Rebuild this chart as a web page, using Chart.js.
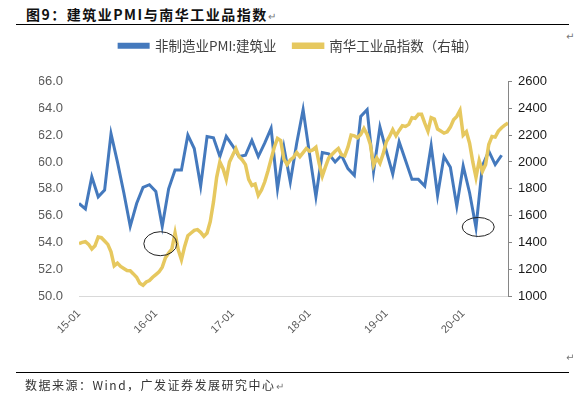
<!DOCTYPE html>
<html>
<head>
<meta charset="utf-8">
<script src="https://cdn.jsdelivr.net/npm/chart.js@4.4.1/dist/chart.umd.min.js"></script>
<style>
  body { margin: 0; width: 585px; height: 395px; background: #fff; position: relative; overflow: hidden; }
  #c { position: absolute; left: 0; top: 0; }
  .title { position: absolute; left: 26px; top: 4px; line-height: 18px; font: bold 14px "Noto Sans CJK SC"; letter-spacing: 1.5px; color: #111; white-space: nowrap; }
  .rule { position: absolute; left: 16px; width: 553px; border-top: 1.5px solid #000; }
  .src { position: absolute; left: 25px; top: 376px; line-height: 16px; font: 12px "Noto Sans CJK SC"; letter-spacing: 1.5px; color: #333; white-space: nowrap; }
  .ret { font-weight: normal; font-size: 10px; color: #777; letter-spacing: 0; }
  .edge { position: absolute; left: 566px; font: 10px "DejaVu Sans"; color: #777; }
</style>
</head>
<body>
<div class="title">图9：建筑业PMI与南华工业品指数<span class="ret">↵</span></div>
<div class="rule" style="top:24px"></div>
<div class="edge" style="top:31px">↵</div>
<canvas id="c" width="585" height="395"></canvas>
<div class="edge" style="top:352px">↵</div>
<div class="rule" style="top:372px"></div>
<div class="src">数据来源：Wind，广发证券发展研究中心<span class="ret">↵</span></div>
<script>
// months counted from 2015-01
const tickLabels = ['15-01', '16-01', '17-01', '18-01', '19-01', '20-01'];

// 非制造业PMI:建筑业, monthly 2015-01 .. 2020-07
const pmiBuild = [
  56.9, 56.5, 58.9, 57.4, 57.9, 62.1, 60.0, 57.7, 55.2, 56.9, 58.1, 58.3,
  57.8, 55.2, 58.0, 59.4, 59.4, 62.0, 61.0, 58.2, 61.9, 61.8, 60.4, 61.9,
  61.2, 60.4, 60.5, 61.6, 60.4, 61.4, 62.5, 58.0, 61.1, 58.5, 61.4, 63.9,
  60.6, 57.4, 60.7, 60.6, 60.0, 60.5, 59.5, 59.0, 63.4, 63.9, 59.3, 62.6,
  60.8, 59.1, 61.5, 60.1, 58.7, 58.7, 58.2, 61.2, 57.5, 60.4, 59.6, 56.7,
  59.7, 57.7, 55.1, 59.7, 60.8, 59.8, 60.5
];

// 南华工业品指数, read every half month
const nanhua = [
  1390, 1400, 1405, 1385, 1350, 1375, 1440, 1435, 1410, 1385,
  1330, 1225, 1245, 1220, 1205, 1190, 1188, 1165, 1140, 1095,
  1080, 1105, 1115, 1140, 1160, 1180, 1215, 1285, 1320, 1350,
  1470, 1345, 1270, 1370, 1450, 1470, 1490, 1495, 1475, 1445,
  1470, 1555, 1700, 1885, 2000, 1950, 1870, 2000, 2050, 2100,
  2040, 2015, 1980, 1870, 1825, 1835, 1750, 1790, 1850, 1930,
  2020, 2110, 2175, 2160, 2020, 1980, 2015, 2035, 2070, 2040,
  2070, 2100, 2080, 2090, 2110, 1990, 1895, 1965, 2030, 2055,
  2080, 2100, 2053, 2045, 2110, 2200, 2195, 2180, 2205, 2250,
  2205, 2130, 1975, 2030, 1990, 2060, 2150, 2190, 2240, 2195,
  2235, 2270, 2265, 2280, 2330, 2325, 2355, 2355, 2290, 2230,
  2330, 2320, 2245, 2230, 2215, 2225, 2260, 2315, 2340, 2385,
  2200, 2225, 2140, 2000, 1885, 2010, 1930, 1980, 2130, 2190,
  2185, 2230, 2255, 2275, 2290
];

const BLUE = '#4479BD';
const GOLD = '#E6C85F';

// the two hand-drawn ellipses (month, left-axis value)
const circleNotes = [
  { month: 12.7, pmi: 53.9, rx: 16.5, ry: 12 },
  { month: 62.35, pmi: 55.15, rx: 16, ry: 9.5 }
];

const legendGap = {
  id: 'legendGap',
  beforeInit(chart) {
    const fit = chart.legend.fit;
    chart.legend.fit = function () {
      fit.bind(chart.legend)();
      this.height += 19;
    };
  }
};

const ellipses = {
  id: 'ellipses',
  afterDatasetsDraw(chart) {
    const { ctx, scales } = chart;
    ctx.save();
    ctx.strokeStyle = '#222';
    ctx.lineWidth = 1;
    circleNotes.forEach(c => {
      ctx.beginPath();
      ctx.ellipse(scales.x.getPixelForValue(c.month), scales.y.getPixelForValue(c.pmi), c.rx, c.ry, 0, 0, Math.PI * 2);
      ctx.stroke();
    });
    ctx.restore();
  }
};

const tickFont = { family: '"Liberation Sans", Arial', size: 13 };

new Chart('c', {
  type: 'line',
  data: {
    datasets: [{
      label: '非制造业PMI:建筑业',
      data: pmiBuild.map((v, i) => ({ x: i, y: v })),
      borderColor: BLUE,
      backgroundColor: BLUE,
      borderWidth: 3,
      pointRadius: 0,
      yAxisID: 'y',
      order: 1
    }, {
      label: '南华工业品指数（右轴）',
      data: nanhua.map((v, i) => ({ x: i / 2, y: v })),
      borderColor: GOLD,
      backgroundColor: GOLD,
      borderWidth: 3.5,
      pointRadius: 0,
      yAxisID: 'y1',
      order: 0
    }]
  },
  options: {
    responsive: false,
    animation: false,
    devicePixelRatio: 1,
    layout: { padding: { top: 22, left: 39, right: 27, bottom: 49 } },
    plugins: {
      tooltip: { enabled: false },
      legend: {
        display: true,
        labels: {
          boxWidth: 29,
          boxHeight: 3,
          padding: 17,
          color: '#404040',
          font: { family: '"Noto Sans CJK SC"', size: 13.5 },
          sort: (a, b) => a.datasetIndex - b.datasetIndex
        }
      }
    },
    scales: {
      x: {
        type: 'linear',
        min: 0,
        max: 67,
        grid: { display: false, drawTicks: false },
        border: { display: true, color: '#D9D9D9', width: 1 },
        afterBuildTicks: s => { s.ticks = tickLabels.map((_, i) => ({ value: i * 12 })); },
        afterFit: s => { s.height = 50; },
        ticks: {
          minRotation: 45,
          maxRotation: 45,
          padding: 11,
          color: '#595959',
          font: { family: '"Liberation Sans", Arial', size: 11 },
          callback: v => tickLabels[Math.round(v / 12)]
        }
      },
      y: {
        position: 'left',
        min: 50,
        max: 66,
        grid: { display: false, drawTicks: false },
        border: { display: false },
        afterFit: s => { s.width = 40; },
        ticks: {
          stepSize: 2,
          padding: 16,
          color: '#595959',
          font: tickFont,
          callback: v => v.toFixed(1)
        }
      },
      y1: {
        position: 'right',
        min: 1000,
        max: 2600,
        grid: { display: true, drawOnChartArea: false, drawTicks: true, tickLength: 4, color: '#868686' },
        border: { display: true, color: '#868686', width: 1 },
        afterFit: s => { s.width = 50; },
        ticks: {
          stepSize: 200,
          padding: 6,
          color: '#1a1a1a',
          font: tickFont,
          callback: v => String(v)
        }
      }
    }
  },
  plugins: [legendGap, ellipses]
});
</script>
</body>
</html>
